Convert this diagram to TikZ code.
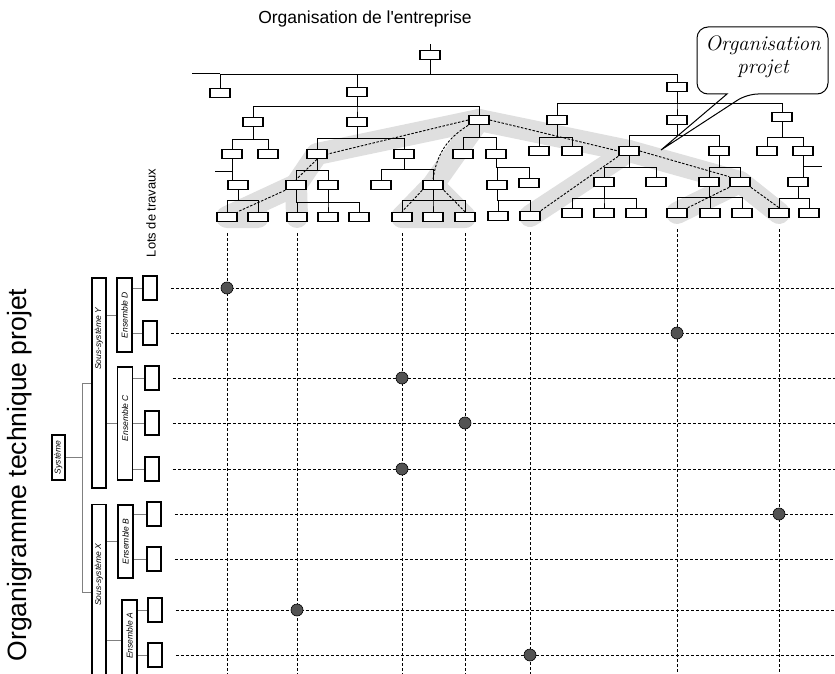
\documentclass[tikz,border=0pt]{standalone}
\usepackage{fontspec}
\setsansfont{Liberation Sans}
\usepackage{tikz}
\usetikzlibrary{backgrounds}

\begin{document}
\begin{tikzpicture}[x=1pt,y=-1pt,
  box/.style={draw,fill=white,line width=1.6pt,minimum width=20pt,minimum height=9pt,inner sep=0pt},
  bar/.style={draw,fill=white,line width=1.5pt,minimum width=14pt,inner sep=0pt},
  lot/.style={bar,minimum height=24pt},
  small/.style={font=\sffamily\itshape\fontsize{8.5}{9}\selectfont,rotate=90,inner sep=0pt},
  link/.style={line width=0.8pt},
  thin link/.style={line width=0.6pt,gray},
  bus/.style={to path={-- ++(0,#1) -| (\tikztotarget)}},
  projet/.style={dash pattern=on 2.5pt off 1.5pt,line width=0.9pt},
  grille/.style={dash pattern=on 3pt off 2pt,line width=0.7pt},
  halo/.style={gray!25,line width=22pt,line cap=round,line join=round},
  pastille/.style={circle,draw,fill=gray!65!black,minimum size=12pt,inner sep=0pt,line width=0.6pt}]
  \clip (0,0) rectangle (835,674);
  \coordinate (right) at (835,0);
  \coordinate (bottom) at (0,674);

  \node[font=\sffamily\fontsize{17.5}{20}\selectfont] (oe) at (365,19) {Organisation de l\textquotesingle entreprise};
  \node[font=\sffamily\fontsize{26.5}{28}\selectfont,rotate=90] (otp) at (20,475) {Organigramme technique projet};
  \node[font=\sffamily\fontsize{12.9}{14}\selectfont,rotate=90] (ldt) at (151,213) {Lots de travaux};

  % organisation de l'entreprise
  \foreach \n/\x/\y in {r/430/55, a/220/93, b/357/92, c/677/87,
      b1/253/122, b2/357/122, b3/479/120, c1/557/120, c2/677/120, c3/782/117,
      b11/232/154, b12/268/154, b21/317/154, b22/404/154, b31/463/154, b32/496/154,
      c11/539/151, c12/572/151, c21/629/151, c22/719/151, c31/767/151, c32/803/151,
      b111/238/185, b211/296/185, b212/328/185, b221/381/185, b222/433/185,
      b321/497/185, b322/529/183, c211/604/182, c212/656/182, c221/709/182,
      c222/740/182, c321/798/182,
      b1111/227/217, b1112/258/217, b2121/297/217, b2122/328/217, b2123/359/217,
      b2221/402/217, b2222/433/217, b2223/465/217, b3211/498/216, b3212/530/216,
      c2111/572/213, c2112/604/213, c2113/636/213, c2211/677/213, c2212/710/213,
      c2213/742/213, c3211/779/213, c3212/809/213}
    \node[box] (\n) at (\x,\y) {};

  \foreach \p/\c/\d in {r/a/14.5, r/b/14.5, r/c/14.5, b/b1/9.5, b/b2/9.5, b/b3/9.5,
      c/c1/11.5, c/c2/11.5, c/c3/11.5, b1/b11/12.5, b1/b12/12.5, b2/b21/11.5, b2/b22/11.5,
      b3/b31/12.5, b3/b32/12.5, c1/c11/12.5, c1/c12/12.5, c2/c21/10.5, c2/c22/10.5,
      c3/c31/15.5, c3/c32/15.5, b111/b1111/10.5, b111/b1112/10.5,
      b21/b211/11.5, b21/b212/11.5, b212/b2121/12.5, b212/b2122/12.5, b212/b2123/12.5,
      b22/b221/10.5, b22/b222/10.5, b222/b2221/10.5, b222/b2222/10.5, b222/b2223/10.5,
      b32/b321/8.5, b32/b322/8.5, b321/b3211/10.5, b321/b3212/10.5,
      c21/c211/11.5, c21/c212/11.5, c211/c2111/11.5, c211/c2112/11.5, c211/c2113/11.5,
      c22/c221/11.5, c22/c222/11.5, c221/c2211/10.5, c221/c2212/10.5, c221/c2213/10.5,
      c321/c3211/11.5, c321/c3212/11.5}
    \draw[link] (\p.south) to[bus=\d] (\c.north);
  \draw[link] (r.north) -- ++(0,-6);
  \draw[link] (a.north) ++(0,-14.5) -- ++(-28,0);
  \draw[link] (b11.south) -- (b11.south |- b111.north);
  \draw[link] (b11.south) ++(0,12) -- ++(-17,0);
  \draw[link] (b211.south) -- ++(0,12.5);
  \draw[link] (c32.south) -- (c32.south |- c321.north);
  \draw[link] (c32.south) ++(0,10) -- ++(19,0);

  % organisation projet
  \draw[projet] (b3.west) -- (b21.east);
  \draw[projet] (b21.south) -- (b211.north);
  \draw[projet] (b211.south west) -- (b1111.north east);
  \draw[projet] (b3.south west) to[bend right=25] (b222.north);
  \draw[projet] (b222.south west) -- (b2221.north);
  \draw[projet] (b222.south east) -- (b2223.north);
  \draw[projet] (b3.east) -- (c21.west);
  \draw[projet] (c21.south west) -- (b3212.north east);
  \draw[projet] (c21.east) -- (c222.north west);
  \draw[projet] (c222.south west) -- (c2211.north east);
  \draw[projet] (c222.south east) -- (c3211.north);

  \begin{scope}[on background layer]
    \draw[halo] (b211.center) -- (b21.center) -- (b3.center) -- (c21.center) -- (c222.center) -- (c3211.center);
    \draw[halo] (b2121.center) -- (b211.center) -- (b1111.center) -- (b1112.center);
    \draw[halo,fill=gray!25] (b3.center) -- (b222.center) -- (b2221.center) -- (b2223.center) -- (b222.center);
    \draw[halo] (c21.center) -- (b3212.center);
    \draw[halo] (c222.center) -- (c2211.center);
  \end{scope}

  \node[font=\itshape\fontsize{21}{23}\selectfont,align=center] (proj) at (763,57) {Organisation\\projet};
  \coordinate (tip) at (661,150);
  \draw[line width=1pt] (tip) -- (727,94) [rounded corners=11pt] -- (697,94) -- (697,27)
    -- (828,27) -- (828,94) -- (747,94) [sharp corners] -- cycle;

  % organigramme technique
  \node[bar,minimum width=13pt,minimum height=45pt] (sys) at (58.5,457.5) {};
  \node[small] (sysl) at (sys) {Système};
  \node[bar,minimum height=210pt] (ssy) at (99,383) {};
  \node[small] (ssyl) at (99,339) {Sous-système Y};
  \node[bar,minimum height=175pt] (ssx) at (99,592) {};
  \node[small] (ssxl) at (99,575) {Sous-système X};
  \node[bar,minimum width=15pt,minimum height=74pt] (ensD) at (124.5,315) {};
  \node[small] (ensDl) at (ensD) {Ensemble D};
  \node[bar,minimum width=15pt,minimum height=113pt] (ensC) at (125,423.5) {};
  \node[small] (ensCl) at (125,418) {Ensemble C};
  \node[bar,minimum width=15pt,minimum height=73pt] (ensB) at (125.5,541.5) {};
  \node[small] (ensBl) at (ensB) {Ensemble B};
  \node[bar,minimum width=15pt,minimum height=80pt] (ensA) at (129.5,640) {};
  \node[small] (ensAl) at (129.5,636) {Ensemble A};

  \draw[thin link] (sys.east) -- ++(17,0) |- (ssy.west);
  \draw[thin link] (sys.east) -- ++(17,0) |- (ssx.west);
  \foreach \e/\s in {ensD/ssy, ensC/ssy, ensB/ssx, ensA/ssx}
    \draw[thin link] (\e.west -| \s.east) -- (\e.west);

  \foreach \w/\x/\y/\e in {wD1/150/288/ensD, wD2/150/333/ensD, wC1/152/378/ensC,
      wC2/152/423/ensC, wC3/152/469/ensC, wB1/154/514/ensB, wB2/154/559/ensB,
      wA1/155/610/ensA, wA2/155/655/ensA} {
    \node[lot] (\w) at (\x,\y) {};
    \draw[thin link] (\w.west -| \e.east) -- (\w.west);
    \draw[grille] ([xshift=13pt]\w.east) -- (\w.east -| right);
  }

  % lots de travaux
  \foreach \f in {b1111, b2121, b2221, b2223, b3212, c2211, c3211}
    \draw[grille] ([yshift=-11pt]\f.south) -- (\f.south |- bottom);
  \foreach \f/\w [count=\i] in {b1111/wD1, c2211/wD2, b2221/wC1, b2223/wC2,
      b2221/wC3, c3211/wB1, b2121/wA1, b3212/wA2}
    \node[pastille] (dot\i) at (\f |- \w) {};
\end{tikzpicture}
\end{document}
